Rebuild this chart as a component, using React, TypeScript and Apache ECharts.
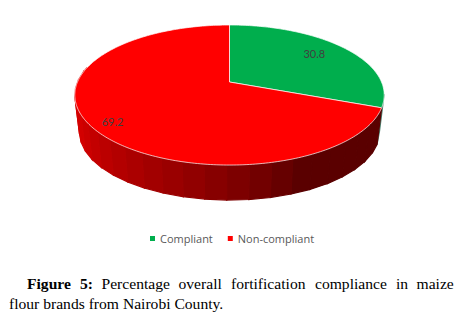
import React, { useEffect, useRef } from "react";
import * as echarts from "echarts";

const categories = ["Compliant", "Non-compliant"];
const values = [30.8, 69.2];
const captionLine1 = [
  { text: "Figure", bold: true, x: 27 },
  { text: "5:", bold: true, x: 80 },
  { text: "Percentage", bold: false, x: 101.5 },
  { text: "overall", bold: false, x: 178.5 },
  { text: "fortification", bold: false, x: 231 },
  { text: "compliance", bold: false, x: 315 },
  { text: "in", bold: false, x: 396 },
  { text: "maize", bold: false, x: 416.5 },
];
const captionLine2 = "flour brands from Nairobi County.";

const sliceColors = ["#00ae4d", "#ff0000"];
const labelRadius = [0.73, 0.85];
const labelShiftY = [-3, 4];

// Perspective projection of the tilted disc on to the page
const CX = 229.5;
const CY = 82;
const A = 152;
const B = 67.6;
const K = 0.186;
const DEPTH = 37.5;
const BOTTOM_SCALE = 0.97;

function project(theta: number, r = 1, scale = 1, dy = 0): number[] {
  const u = r * Math.sin(theta);
  const v = r * Math.cos(theta);
  const d = 1 + K * v;
  return [CX + (scale * A * u) / d, CY + dy - (scale * B * v) / d];
}
const rad = (d: number) => (d * Math.PI) / 180;
const total = values.reduce((a, b) => a + b, 0);

function sideColor(angle: number): string {
  const t = Math.max(0, Math.min(1, (angle - 155) / (245 - 155)));
  const r = Math.round(0x5a + (0xd4 - 0x5a) * Math.pow(t, 0.8));
  return `rgb(${r},0,0)`;
}

function sideQuad(a: number, a2: number, color: string) {
  return {
    type: "polygon",
    shape: {
      points: [
        project(rad(a)),
        project(rad(a2)),
        project(rad(a2), 1, BOTTOM_SCALE, DEPTH),
        project(rad(a), 1, BOTTOM_SCALE, DEPTH),
      ],
    },
    style: { fill: color, stroke: color, lineWidth: 1.2 },
  };
}

function sliceRenderer(index: number) {
  return (_params: any, api: any) => {
    const before = values.slice(0, index).reduce((a, b) => a + b, 0);
    const value = api.value(0);
    const start = (before / total) * 360;
    const end = ((before + value) / total) * 360;
    const children: any[] = [];

    if (index === 0) {
      children.push(sideQuad(100, end, "#4f8573"));
    } else {
      const sideEnd = 282;
      const step = 7;
      for (let a = start; a < sideEnd; a += step) {
        children.push(sideQuad(a, Math.min(a + step, sideEnd), sideColor(a)));
      }
    }

    const top: number[][] = [[CX, CY]];
    for (let a = start; a <= end + 0.001; a += 1) top.push(project(rad(a)));
    top.push(project(rad(end)));
    children.push({
      type: "polygon",
      shape: { points: top },
      style: { fill: sliceColors[index], stroke: "#ffffff", lineWidth: 0.7 },
    });

    const mid = rad((start + end) / 2);
    const p = project(mid, labelRadius[index]);
    children.push({
      type: "text",
      x: p[0],
      y: p[1] + labelShiftY[index],
      style: {
        text: String(value),
        fill: "#404040",
        font: "11px Lato",
        textAlign: "center",
        textVerticalAlign: "middle",
      },
    });
    return { type: "group", children };
  };
}

export default function App() {
  const ref = useRef<HTMLDivElement>(null);
  useEffect(() => {
    const chart = echarts.init(ref.current!, undefined, { renderer: "svg" });
    const serif = "'Liberation Serif'";
    chart.setOption({
      animation: false,
      backgroundColor: "#ffffff",
      legend: {
        data: categories,
        left: 150,
        top: 233,
        padding: 0,
        icon: "rect",
        itemWidth: 5,
        itemHeight: 5,
        itemGap: 15,
        textStyle: { color: "#595959", fontFamily: "Open Sans", fontSize: 11 },
      },
      series: categories.map((name, i) => ({
        type: "custom",
        name,
        coordinateSystem: "none",
        silent: true,
        itemStyle: { color: sliceColors[i] },
        data: [[values[i]]],
        renderItem: sliceRenderer(i),
      })),
      graphic: [
        ...captionLine1.map((w) => ({
          type: "text",
          x: w.x,
          y: 283.5,
          style: {
            text: w.text,
            fill: "#000000",
            font: `${w.bold ? "bold " : ""}15.6px ${serif}`,
            textVerticalAlign: "middle",
          },
        })),
        {
          type: "text",
          x: 9,
          y: 303,
          style: {
            text: captionLine2,
            fill: "#000000",
            font: `15.6px ${serif}`,
            textVerticalAlign: "middle",
          },
        },
      ],
    });
    return () => chart.dispose();
  }, []);
  return (
    <div
      ref={ref}
      style={{ position: "fixed", left: 0, top: 0, width: 468, height: 316 }}
    />
  );
}
